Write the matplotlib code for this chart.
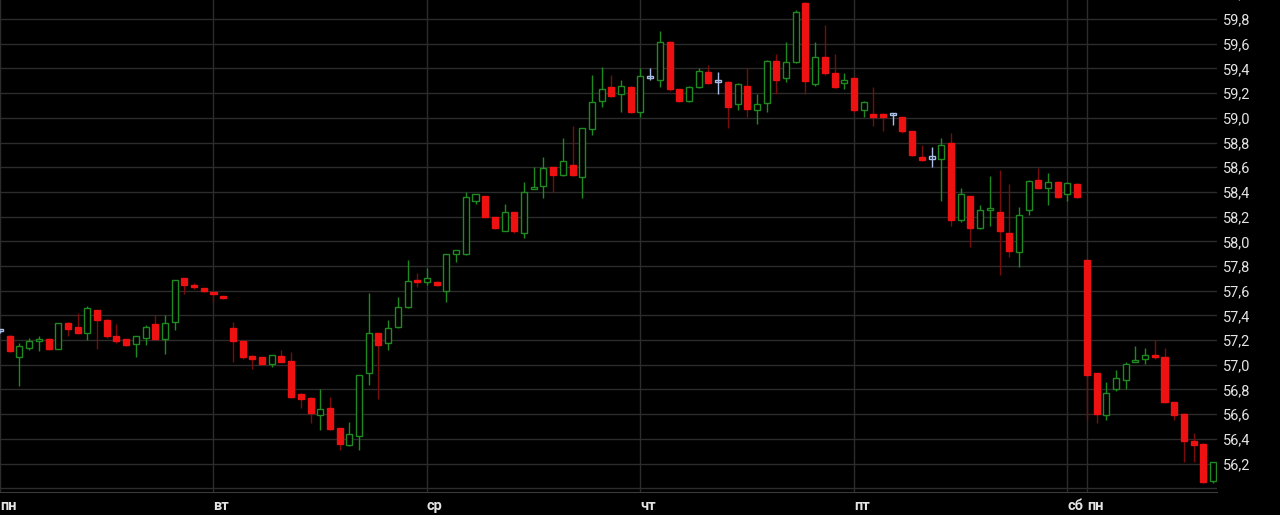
import numpy as np
import matplotlib

matplotlib.use("Agg")
import matplotlib.pyplot as plt

plt.rcParams.update({"font.family": ["Roboto", "DejaVu Sans"], "font.size": 10})

# candle index (one per hour-ish bar), day boundaries every 22 bars
idx = list(range(-1, 125))
opens = [
    57.27, 57.23, 57.06, 57.14, 57.19, 57.21, 57.13, 57.34, 57.31, 57.26, 57.44,
    57.36, 57.23, 57.21, 57.17, 57.22, 57.33, 57.21, 57.35, 57.70, 57.65, 57.61,
    57.59, 57.55, 57.30, 57.19, 57.07, 57.06, 57.01, 57.07, 57.03, 56.76, 56.73,
    56.59, 56.65, 56.49, 56.35, 56.42, 56.93, 57.26, 57.18, 57.31, 57.47, 57.68,
    57.67, 57.67, 57.60, 57.90, 57.90, 58.33, 58.37, 58.20, 58.08, 58.24, 58.07,
    58.42, 58.45, 58.60, 58.54, 58.62, 58.52, 58.91, 59.14, 59.25, 59.19, 59.25,
    59.05, 59.32, 59.31, 59.61, 59.23, 59.14, 59.25, 59.37, 59.29, 59.29, 59.11,
    59.26, 59.06, 59.12, 59.46, 59.32, 59.45, 59.93, 59.27, 59.49, 59.36, 59.28,
    59.32, 59.06, 59.03, 59.03, 59.02, 59.01, 58.89, 58.68, 58.67, 58.67, 58.80,
    58.17, 58.37, 58.11, 58.25, 58.24, 58.07, 57.91, 58.25, 58.50, 58.43, 58.48,
    58.38, 58.46, 57.85, 56.93, 56.59, 56.80, 56.88, 57.02, 57.05, 57.07, 57.06,
    56.70, 56.60, 56.38, 56.36, 56.06,
]
highs = [
    57.28, 57.24, 57.18, 57.22, 57.23, 57.22, 57.34, 57.35, 57.42, 57.48, 57.44,
    57.37, 57.33, 57.21, 57.23, 57.32, 57.40, 57.40, 57.69, 57.70, 57.66, 57.62,
    57.59, 57.55, 57.35, 57.20, 57.08, 57.06, 57.08, 57.12, 57.10, 56.77, 56.74,
    56.80, 56.74, 56.49, 56.54, 56.92, 57.58, 57.26, 57.36, 57.55, 57.85, 57.74,
    57.78, 57.68, 57.90, 57.93, 58.40, 58.38, 58.37, 58.20, 58.30, 58.24, 58.48,
    58.60, 58.68, 58.60, 58.84, 58.93, 58.92, 59.35, 59.41, 59.35, 59.31, 59.26,
    59.40, 59.40, 59.70, 59.62, 59.23, 59.26, 59.40, 59.43, 59.37, 59.30, 59.28,
    59.40, 59.19, 59.47, 59.52, 59.61, 59.87, 59.94, 59.61, 59.75, 59.52, 59.36,
    59.33, 59.14, 59.25, 59.04, 59.04, 59.01, 58.89, 58.78, 58.76, 58.84, 58.88,
    58.43, 58.37, 58.29, 58.53, 58.58, 58.46, 58.28, 58.50, 58.59, 58.55, 58.49,
    58.48, 58.47, 57.86, 56.93, 56.86, 56.96, 57.02, 57.15, 57.14, 57.20, 57.14,
    56.70, 56.61, 56.45, 56.37, 56.21,
]
lows = [
    57.26, 57.10, 56.83, 57.12, 57.11, 57.12, 57.13, 57.23, 57.25, 57.20, 57.13,
    57.22, 57.18, 57.15, 57.06, 57.16, 57.20, 57.09, 57.28, 57.57, 57.61, 57.59,
    57.51, 57.53, 57.02, 57.05, 56.97, 57.01, 56.98, 57.02, 56.73, 56.65, 56.53,
    56.47, 56.47, 56.31, 56.34, 56.31, 56.84, 56.72, 57.12, 57.30, 57.46, 57.63,
    57.65, 57.64, 57.51, 57.83, 57.89, 58.30, 58.20, 58.10, 58.08, 58.07, 58.03,
    58.42, 58.35, 58.40, 58.53, 58.53, 58.35, 58.86, 59.09, 59.17, 59.05, 59.04,
    59.01, 59.31, 59.25, 59.22, 59.13, 59.13, 59.24, 59.27, 59.19, 58.92, 59.06,
    59.01, 58.95, 59.05, 59.19, 59.29, 59.44, 59.19, 59.26, 59.35, 59.24, 59.23,
    59.05, 59.01, 58.93, 58.89, 58.94, 58.88, 58.69, 58.65, 58.60, 58.33, 58.12,
    58.16, 57.95, 58.10, 58.12, 57.73, 57.87, 57.79, 58.21, 58.42, 58.29, 58.35,
    58.33, 58.35, 56.55, 56.53, 56.55, 56.79, 56.80, 57.02, 57.01, 57.05, 56.69,
    56.55, 56.21, 56.21, 56.04, 56.04,
]
closes = [
    57.27, 57.11, 57.15, 57.19, 57.21, 57.13, 57.34, 57.29, 57.26, 57.46, 57.36,
    57.23, 57.19, 57.16, 57.23, 57.31, 57.21, 57.34, 57.69, 57.65, 57.63, 57.60,
    57.57, 57.54, 57.19, 57.06, 57.05, 57.01, 57.08, 57.02, 56.74, 56.72, 56.61,
    56.64, 56.48, 56.36, 56.44, 56.92, 57.26, 57.16, 57.30, 57.47, 57.68, 57.67,
    57.70, 57.65, 57.90, 57.93, 58.36, 58.38, 58.20, 58.11, 58.24, 58.08, 58.40,
    58.44, 58.59, 58.54, 58.65, 58.54, 58.92, 59.13, 59.23, 59.18, 59.26, 59.05,
    59.34, 59.32, 59.61, 59.23, 59.14, 59.25, 59.38, 59.28, 59.29, 59.09, 59.27,
    59.07, 59.11, 59.46, 59.31, 59.45, 59.86, 59.30, 59.49, 59.36, 59.25, 59.31,
    59.06, 59.13, 59.01, 59.01, 59.02, 58.89, 58.70, 58.66, 58.67, 58.78, 58.17,
    58.38, 58.11, 58.25, 58.27, 58.08, 57.92, 58.21, 58.49, 58.43, 58.48, 58.36,
    58.47, 58.36, 56.92, 56.60, 56.77, 56.89, 57.01, 57.03, 57.08, 57.06, 56.70,
    56.59, 56.38, 56.35, 56.05, 56.21,
]

day_ticks = [-1, 21, 43, 65, 87, 109, 111]
day_labels = ["пн", "вт", "ср", "чт", "пт", "сб", "пн"]
price_ticks = np.round(np.arange(56.2, 59.81, 0.2), 1)

UP = "#1f8a1f"
DOWN = "#ee1111"
DOWN_WICK = "#7a0c0c"
FLAT = "#a9bde6"
BG = "#000000"

fig = plt.figure(figsize=(12.8, 5.15), dpi=100, facecolor=BG)
ax = fig.add_axes([0, 23 / 515, 1217 / 1280, 492 / 515], facecolor=BG)

for i, o, h, l, c in zip(idx, opens, highs, lows, closes):
    if abs(c - o) < 0.005:
        col, wick, fill = FLAT, FLAT, "none"
    elif c > o:
        col, wick, fill = UP, UP, BG
    else:
        col, wick, fill = DOWN, DOWN_WICK, DOWN
    lo, hi = min(o, c), max(o, c)
    ax.vlines(i, l, lo, color=wick, lw=1, zorder=2)
    ax.vlines(i, hi, h, color=wick, lw=1, zorder=2)
    body = max(hi - lo, 0.018)
    ax.bar(i, body, bottom=lo, width=0.62, color=fill, edgecolor=col,
           linewidth=1.0, zorder=3)

ax.set_xlim(-0.82, 124.41)
ax.set_ylim(55.97, 59.954)

ax.set_yticks(price_ticks)
ax.set_yticklabels([f"{v:.1f}".replace(".", ",") for v in price_ticks])
ax.yaxis.tick_right()
ax.tick_params(axis="y", length=0, pad=4, colors="#e4e4e4", labelsize=10.5)

ax.set_xticks(day_ticks)
ax.set_xticklabels(day_labels, ha="left")
ax.tick_params(axis="x", length=0, pad=5, colors="#e4e4e4", labelsize=10.5)
for lab in ax.get_xticklabels():
    lab.set_fontweight("bold")

ax.grid(True, color="#2c2c2c", lw=1, zorder=0)
ax.axhline(56.0, color="#2c2c2c", lw=1, zorder=0)
ax.set_axisbelow(True)
for s in ("top", "right", "left"):
    ax.spines[s].set_visible(False)
ax.spines["bottom"].set_color("#3a3a3a")

# partly cut-off label above the top edge
ax.text(1.0, 60.0, "60,0", transform=ax.get_yaxis_transform(), clip_on=False,
        color="#e4e4e4", fontsize=10.5, va="center", ha="left")
ax.texts[-1].set_x(1.0 + 5 / 1217)

fig.savefig("out.png", dpi=100, facecolor=BG)
